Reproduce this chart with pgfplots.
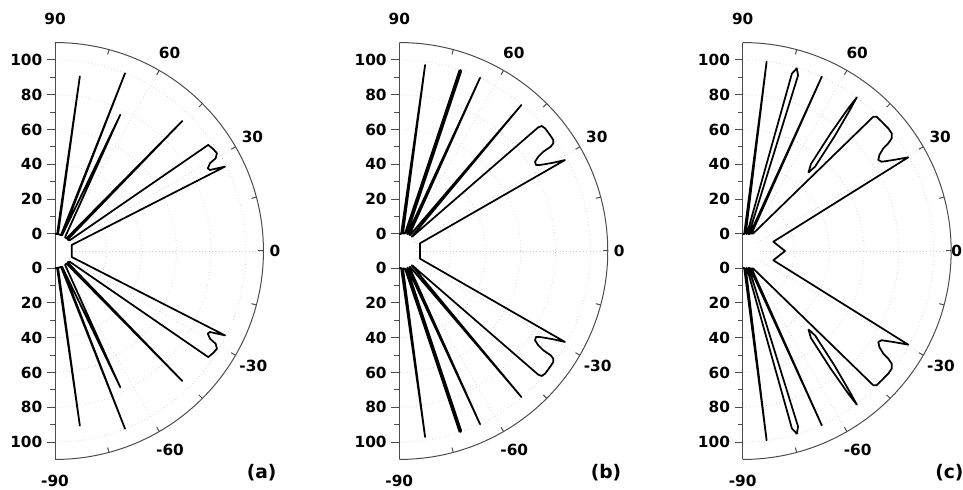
\documentclass[border=0pt]{standalone}
\usepackage{fontspec}
\setmainfont{DejaVu Sans}
\usepackage{pgfplots}
\pgfplotsset{compat=1.18}
\usepackage{pgfplotstable}

% Radiation patterns: angle a (deg), magnitude r; r = 0 sits on an inner ring of radius 9.8
\pgfplotstableread{
a r
90 0
83 0
81.9 91.6
79.6 0
69.4 0
68.5 100
65.7 0
64.4 77
53.9 0
47.8 0
45.6 94.8
42 0
36 0.5
34.7 97.3
32.8 98.4
31.1 98.9
30.0 96.8
29.5 92.6
28.4 90.0
27.6 90.7
26.4 99.3
19.8 0.4
-19.8 0.4
-26.4 99.3
-27.6 90.7
-28.4 90.0
-29.5 92.6
-30.0 96.8
-31.1 98.9
-32.8 98.4
-34.7 97.3
-36 0.5
-42 0
-45.6 94.8
-47.8 0
-53.9 0
-64.4 77
-65.7 0
-68.5 100
-69.4 0
-79.6 0
-81.9 91.6
-83 0
-90 0
}\patternA

\pgfplotstableread{
a r
90 0
84 0
82.1 98.1
78 0.5
72 0.8
71.6 99.3
71.3 100
71.0 99.3
66 1.2
64 1
65.0 100.1
58 1.2
56 1.2
50.1 99.6
49 1.1
48 1.5
41.67 97.1
41.27 99.1
40.1 99.7
37.59 99.5
35.78 99.3
34.96 98.2
34.57 95.9
34.59 90.7
34.15 86.7
33.35 83.6
32.18 83.0
31.43 85.0
29.83 92.2
28.77 98.8
20.4 2.9
-20.4 2.9
-28.77 98.8
-29.83 92.2
-31.43 85.0
-32.18 83.0
-33.35 83.6
-34.15 86.7
-34.59 90.7
-34.57 95.9
-34.96 98.2
-35.78 99.3
-37.59 99.5
-40.1 99.7
-41.27 99.1
-41.67 97.1
-48 1.5
-49 1.1
-50.1 99.6
-56 1.2
-58 1.2
-65.0 100.1
-64 1
-66 1.2
-71.0 99.3
-71.3 100
-71.6 99.3
-72 0.8
-78 0.5
-82.1 98.1
-84 0
-90 0
}\patternB

\pgfplotstableread{
a r
90 0
85 0
82.8 99.9
80 0.3
76 0.3
74.5 96
73.5 99.7
72.5 96
70 0.5
67 1
65.6 100.2
63 1.5
59 2
45.8 97.9
45.06 99.2
42.93 99.3
40.12 99.6
38.3 99.3
37.11 97.6
36.49 94.3
36.14 90.3
35.1 86.2
33.86 84.05
32.72 85.1
31.14 91.3
29.5 99.55
16.9 8.6
0 14.5
-16.9 8.6
-29.5 99.55
-31.14 91.3
-32.72 85.1
-33.86 84.05
-35.1 86.2
-36.14 90.3
-36.49 94.3
-37.11 97.6
-38.3 99.3
-40.12 99.6
-42.93 99.3
-45.06 99.2
-45.8 97.9
-59 2
-63 1.5
-65.6 100.2
-67 1
-70 0.5
-72.5 96
-73.5 99.7
-74.5 96
-76 0.3
-80 0.3
-82.8 99.9
-85 0
-90 0
}\patternC

\pgfplotstableread{
a r
50.0 48.9
49.4 54.2
51.3 74.6
52.8 92.5
53.4 100.2
53.5 92.4
53.2 74.3
51.9 53.8
50.0 48.9
}\lobeCup

\pgfplotstableread{
a r
-50.0 48.9
-49.4 54.2
-51.3 74.6
-52.8 92.5
-53.4 100.2
-53.5 92.4
-53.2 74.3
-51.9 53.8
-50.0 48.9
}\lobeCdown

\pgfplotsset{
  halfpolar/.style={
    x=1.305pt, y=1.305pt,
    xmin=0, xmax=119.8, ymin=-119.8, ymax=119.8,
    anchor=south west,
    axis y line*=left, axis x line=none,
    xtick=\empty,
    axis line style={black!70, line width=0.75pt},
    clip=false,
    ytick={-109.8,-89.8,-69.8,-49.8,-29.8,-9.8,9.8,29.8,49.8,69.8,89.8,109.8},
    yticklabels={100,80,60,40,20,0,0,20,40,60,80,100},
    minor ytick={-99.8,-79.8,-59.8,-39.8,-19.8,19.8,39.8,59.8,79.8,99.8},
    tick align=outside,
    major tick length=6pt, minor tick length=3.75pt,
    tick style={black!70, line width=0.75pt},
    yticklabel style={font=\bfseries\fontsize{11.5}{13}\selectfont},
  },
  pattern/.style={black, line width=1.3pt, line join=round},
}

% polar -> cartesian with the inner ring offset
\newcommand{\polarplot}[2][]{%
  \addplot[pattern,#1] table[x expr={(\thisrow{r}+9.8)*cos(\thisrow{a})},
                             y expr={(\thisrow{r}+9.8)*sin(\thisrow{a})}] {#2};}

% grid, outer arc, angular ticks and labels of one panel
\newcommand{\decor}[3]{%
  \begin{scope}[shift={(#1,178.5pt)}, font=\bfseries\fontsize{11.5}{13}\selectfont]
    \foreach \rr in {38.89,64.99,91.09,117.19,143.29}
      \draw[black!20, dotted, line width=0.5pt] (0,\rr pt) arc[start angle=90, end angle=-90, radius=\rr pt];
    \foreach \t in {-60,-30,0,30,60}
      \draw[black!20, dotted, line width=0.5pt] (\t:12.79pt) -- (\t:156.34pt);
    \draw[black!70, line width=0.75pt] (0,156.34pt) arc[start angle=90, end angle=-90, radius=156.34pt];
    \foreach \t in {-75,-60,...,75}
      \draw[black!70, line width=0.75pt] (\t:156.34pt) -- (\t:152.6pt);
    \node at (90:174pt) {90};
    \node at (60:171.75pt) {60};
    \node at (30:171pt) {30};
    \node at (0:#3) {0};
    \node at (-30:171.75pt) {-30};
    \node at (-60:172.5pt) {-60};
    \node at (-90:172.5pt) {-90};
    \node[font=\bfseries\fontsize{14}{16}\selectfont] at (155pt,-166.5pt) {(#2)};
  \end{scope}}

\begin{document}
\begin{tikzpicture}
  \path[use as bounding box] (0,0) rectangle (722.25pt,366.75pt);

  \decor{41.25pt}{a}{165pt}
  \decor{299.475pt}{b}{165pt}
  \decor{557.025pt}{c}{160.5pt}

  \begin{axis}[halfpolar, at={(41.25pt,22.16pt)}]
    \polarplot{\patternA}
  \end{axis}

  \begin{axis}[halfpolar, at={(299.475pt,22.16pt)}]
    \polarplot{\patternB}
  \end{axis}

  \begin{axis}[halfpolar, at={(557.025pt,22.16pt)}]
    \polarplot{\patternC}
    \polarplot{\lobeCup}
    \polarplot{\lobeCdown}
  \end{axis}
\end{tikzpicture}
\end{document}
